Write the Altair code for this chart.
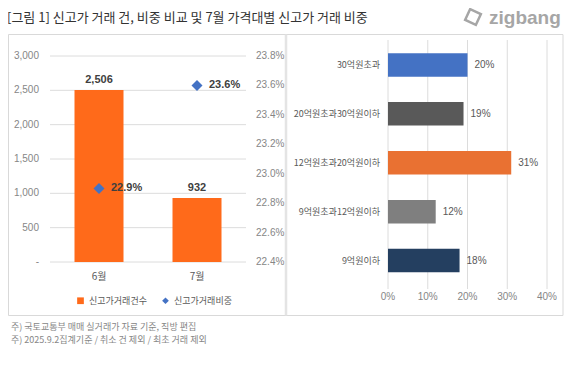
import altair as alt
import pandas as pd

# ---------------- data ----------------
months = ['6월', '7월']
deal_counts = [2506, 932]
deal_shares = [22.9, 23.6]
series_names = ['신고가거래건수', '신고가거래비중']

price_bands = ['30억원초과', '20억원초과30억원이하', '12억원초과20억원이하', '9억원초과12억원이하', '9억원이하']
band_shares = [20, 19, 31, 12, 18]

count_ticks = [0, 500, 1000, 1500, 2000, 2500, 3000]
share_ticks = [22.4, 22.6, 22.8, 23.0, 23.2, 23.4, 23.6, 23.8]
pct_ticks = [0, 10, 20, 30, 40]

title_text = '[그림 1] 신고가 거래 건, 비중 비교 및 7월 가격대별 신고가 거래 비중'
brand_text = 'zigbang'
notes = ['주) 국토교통부 매매 실거래가 자료 기준, 직방 편집',
         '주) 2025.9.2집계기준 / 취소 건 제외 / 최초 거래 제외']

# ---------------- styles ----------------
W, H = 564, 352
KR = 'Noto Sans CJK KR'
NUM = 'Liberation Sans'
ORANGE = '#FF6A1A'
BLUE = '#4472C4'
band_colors = ['#4472C4', '#595959', '#E97132', '#7F7F7F', '#243F60']
GRID = '#DCDCDC'
AXIS_GRAY = '#868686'
TEXT_GRAY = '#595959'

left_df = pd.DataFrame({
    'month': months,
    'count': deal_counts,
    'share': deal_shares,
    'count_series': [series_names[0]] * len(months),
    'share_series': [series_names[1]] * len(months),
})
right_df = pd.DataFrame({'band': price_bands, 'share': band_shares})
one = pd.DataFrame({'k': [0]})

month_scale = alt.Scale(domain=months, range=[42, 238], paddingInner=0.5, paddingOuter=0.25)
count_scale = alt.Scale(domain=[0, 3000], range=[254, 48], nice=False, zero=False)
share_scale = alt.Scale(domain=[22.4, 23.8], range=[254, 48], nice=False, zero=False)
fill_scale = alt.Scale(domain=series_names, range=[ORANGE, BLUE])
shape_scale = alt.Scale(domain=series_names, range=['square', 'diamond'])
legend_spec = alt.Legend(orient='none', legendX=68, legendY=288, direction='horizontal',
                         title=None, labelFont=KR, labelFontSize=9, labelColor=TEXT_GRAY,
                         symbolSize=45, symbolStrokeWidth=0, columnPadding=14,
                         labelOffset=4, padding=0)

# ---------------- left chart (count scale) ----------------
count_tick_df = pd.DataFrame({'tick': count_ticks})

grid_left = alt.Chart(count_tick_df).mark_rule(color=GRID, strokeWidth=1).encode(
    y=alt.Y('tick:Q', scale=count_scale, axis=None),
    x=alt.value(42), x2=alt.value(238))

count_labels = alt.Chart(count_tick_df).transform_calculate(
    label="datum.tick == 0 ? '-' : format(datum.tick, ',')").mark_text(
    font=NUM, fontSize=10, color=AXIS_GRAY, align='right', baseline='middle').encode(
    y=alt.Y('tick:Q', scale=count_scale, axis=None),
    x=alt.value(31), text='label:N')

bars_left = alt.Chart(left_df).mark_bar().encode(
    x=alt.X('month:N', scale=month_scale, sort=months, axis=None),
    y=alt.Y('count:Q', scale=count_scale, axis=None),
    fill=alt.Fill('count_series:N', scale=fill_scale, legend=legend_spec),
)

bar_text = alt.Chart(left_df).mark_text(
    font=NUM, fontSize=11, fontWeight='bold', color='#404040', baseline='middle', dy=-10).encode(
    x=alt.X('month:N', scale=month_scale, sort=months, axis=None),
    y=alt.Y('count:Q', scale=count_scale, axis=None),
    text=alt.Text('count:Q', format=','))

month_labels = alt.Chart(left_df).mark_text(
    font=KR, fontSize=10, color=TEXT_GRAY, baseline='middle').encode(
    x=alt.X('month:N', scale=month_scale, sort=months, axis=None),
    y=alt.value(269), text='month:N')

count_layer = alt.layer(grid_left, count_labels, bars_left, bar_text, month_labels)

# ---------------- left chart (share scale) ----------------
share_tick_df = pd.DataFrame({'tick': share_ticks})

share_labels = alt.Chart(share_tick_df).transform_calculate(
    label="format(datum.tick, '.1f') + '%'").mark_text(
    font=NUM, fontSize=10, color=AXIS_GRAY, align='left', baseline='middle').encode(
    y=alt.Y('tick:Q', scale=share_scale, axis=None),
    x=alt.value(248), text='label:N')

points = alt.Chart(left_df).mark_point(filled=True, size=121, opacity=1).encode(
    x=alt.X('month:N', scale=month_scale, sort=months, axis=None),
    y=alt.Y('share:Q', scale=share_scale, axis=None),
    fill=alt.Fill('share_series:N', scale=fill_scale, legend=legend_spec),
    shape=alt.Shape('share_series:N', scale=shape_scale, legend=legend_spec),
)

point_text = alt.Chart(left_df).transform_calculate(
    label="format(datum.share, '.1f') + '%'").mark_text(
    font=NUM, fontSize=11, fontWeight='bold', color='#404040', align='left',
    baseline='middle', dx=12).encode(
    x=alt.X('month:N', scale=month_scale, sort=months, axis=None),
    y=alt.Y('share:Q', scale=share_scale, axis=None),
    text='label:N')

share_layer = alt.layer(share_labels, points, point_text)
left = alt.layer(count_layer, share_layer).resolve_scale(y='independent')

# ---------------- right chart ----------------
pct_scale = alt.Scale(domain=[0, 40], range=[380, 539], nice=False, zero=False)
band_scale = alt.Scale(domain=price_bands, range=[32.5, 277], paddingInner=0.52, paddingOuter=0.26)
pct_tick_df = pd.DataFrame({'tick': pct_ticks})

grid_right = alt.Chart(pct_tick_df).mark_rule(color=GRID, strokeWidth=1).encode(
    x=alt.X('tick:Q', scale=pct_scale, axis=None),
    y=alt.value(32), y2=alt.value(281))

pct_labels = alt.Chart(pct_tick_df).transform_calculate(
    label="datum.tick + '%'").mark_text(
    font=NUM, fontSize=10, color=AXIS_GRAY, baseline='middle').encode(
    x=alt.X('tick:Q', scale=pct_scale, axis=None),
    y=alt.value(289), text='label:N')

bars_right = alt.Chart(right_df).mark_bar().encode(
    x=alt.X('share:Q', scale=pct_scale, axis=None),
    y=alt.Y('band:N', scale=band_scale, sort=price_bands, axis=None),
    color=alt.Color('band:N', scale=alt.Scale(domain=price_bands, range=band_colors),
                    legend=None),
)

band_labels = alt.Chart(right_df).mark_text(
    font=KR, fontSize=9, color=TEXT_GRAY, align='right', baseline='middle').encode(
    y=alt.Y('band:N', scale=band_scale, sort=price_bands, axis=None),
    x=alt.value(372), text='band:N')

right_text = alt.Chart(right_df).transform_calculate(
    label="datum.share + '%'").mark_text(
    font=NUM, fontSize=10, color=TEXT_GRAY, align='left', baseline='middle', dx=7).encode(
    x=alt.X('share:Q', scale=pct_scale, axis=None),
    y=alt.Y('band:N', scale=band_scale, sort=price_bands, axis=None),
    text='label:N')

right = alt.layer(grid_right, pct_labels, bars_right, band_labels, right_text)

# ---------------- frame & texts ----------------
BORDER = '#D9D9D9'
def hrule(y, x1, x2, color=BORDER, w=1):
    return alt.Chart(one).mark_rule(color=color, strokeWidth=w).encode(
        x=alt.value(x1), x2=alt.value(x2), y=alt.value(y))

def vrule(x, y1, y2, color=BORDER, w=1):
    return alt.Chart(one).mark_rule(color=color, strokeWidth=w).encode(
        y=alt.value(y1), y2=alt.value(y2), x=alt.value(x))

frame = [
    hrule(26.5, 0.5, 555),
    hrule(307.5, 0.5, 555),
    vrule(0.5, 26.5, 307.5),
    vrule(555, 26.5, 307.5),
    vrule(278, 26.5, 307.5, color='#E4E4E4', w=2.5),
]

title = alt.Chart(one).mark_text(
    font=KR, fontSize=13, color='#333333', align='left', baseline='middle').encode(
    x=alt.value(-1), y=alt.value(10), text=alt.value(title_text))

brand = alt.Chart(one).mark_text(
    font=NUM, fontSize=19, fontWeight='bold', color='#A6A6A6', align='left',
    baseline='middle').encode(
    x=alt.value(481), y=alt.value(10), text=alt.value(brand_text))

icon = alt.Chart(one).mark_point(
    shape='square', angle=25, filled=False, stroke='#A6A6A6', strokeWidth=2.5,
    size=140, opacity=1).encode(x=alt.value(465), y=alt.value(9))

note1 = alt.Chart(one).mark_text(
    font=KR, fontSize=9, color=AXIS_GRAY, align='left', baseline='middle').encode(
    x=alt.value(3), y=alt.value(319), text=alt.value(notes[0]))
note2 = alt.Chart(one).mark_text(
    font=KR, fontSize=9, color=AXIS_GRAY, align='left', baseline='middle').encode(
    x=alt.value(3), y=alt.value(332), text=alt.value(notes[1]))

chart = alt.layer(
    *frame, left, right, title, brand, icon, note1, note2
).resolve_scale(
    x='independent', y='independent'
).properties(
    width=W, height=H, padding=0,
    autosize=alt.AutoSizeParams(type='none'),
).configure_view(stroke=None)

chart.save('out.html', embed_options={'renderer': 'svg', 'actions': False})
